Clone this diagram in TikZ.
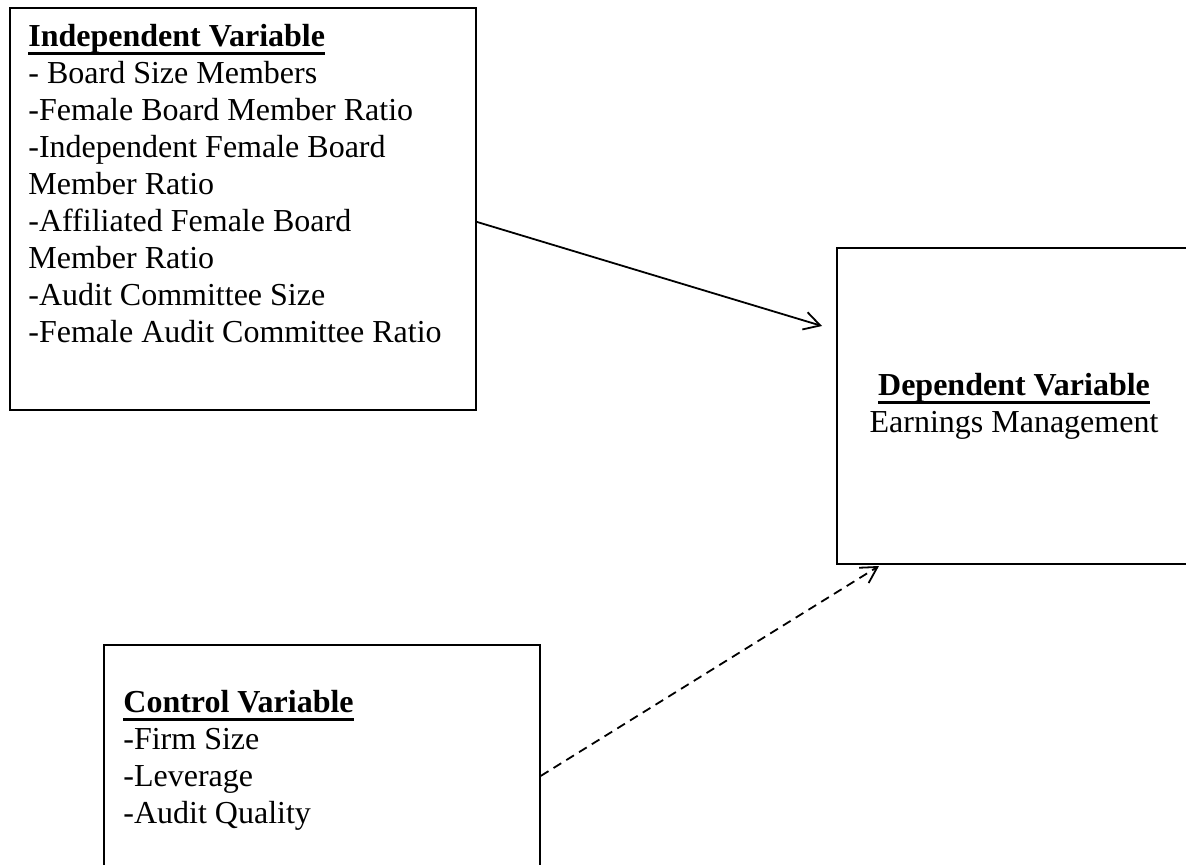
\documentclass[tikz,border=0pt]{standalone}
\usepackage{fontspec}
\setmainfont{Liberation Serif}
\usetikzlibrary{arrows.meta}
% bold heading with a heavy underline
\newcommand{\headline}[1]{\setbox0\hbox{\textbf{#1}}\rlap{\rule[-4pt]{\wd0}{1.5pt}}\box0}

\begin{document}
\begin{tikzpicture}[x=0.5pt, y=-0.5pt, font=\fontsize{16}{18.5}\selectfont,
    box/.style = {draw, line width=0.9pt, inner sep=0pt, anchor=north west},
    txt/.style = {inner sep=0pt, anchor=north west, align=left},
    arr/.style = {-{Straight Barb[length=8pt, width=9pt]}, line width=0.9pt}]
    \useasboundingbox (0,0) rectangle (1186,865);
    % boxes
    \node[box, minimum width=233pt, minimum height=201pt] (indep) at (9,7) {};
    \node[box, minimum width=178pt, minimum height=158pt] (dep) at (836,247) {};
    \node[box, minimum width=218pt, minimum height=118pt] (ctrl) at (103,644) {};
    % texts
    \node[txt] (indeptxt) at (28,24) {\headline{Independent Variable}\\
        - Board Size Members\\
        -Female Board Member Ratio\\
        -Independent Female Board\\
        Member Ratio\\
        -Affiliated Female Board\\
        Member Ratio\\
        -Audit Committee Size\\
        -Female Audit Committee Ratio};
    \node[txt, anchor=north, align=center] (deptxt) at (1014,373) {\headline{Dependent Variable}\\
        Earnings Management};
    \node[txt] (ctrltxt) at (123,690) {\headline{Control Variable}\\
        -Firm Size\\
        -Leverage\\
        -Audit Quality};
    % arrow ends
    \coordinate (tipA) at (822,326);
    \coordinate (tipB) at (879,566);
    \path
        ([yshift=-6.5pt]indep.east) edge[arr] (tipA)
        ([yshift=-6.5pt]ctrl.east) edge[arr, dash pattern=on 4.5pt off 3pt] (tipB);
\end{tikzpicture}
\end{document}
